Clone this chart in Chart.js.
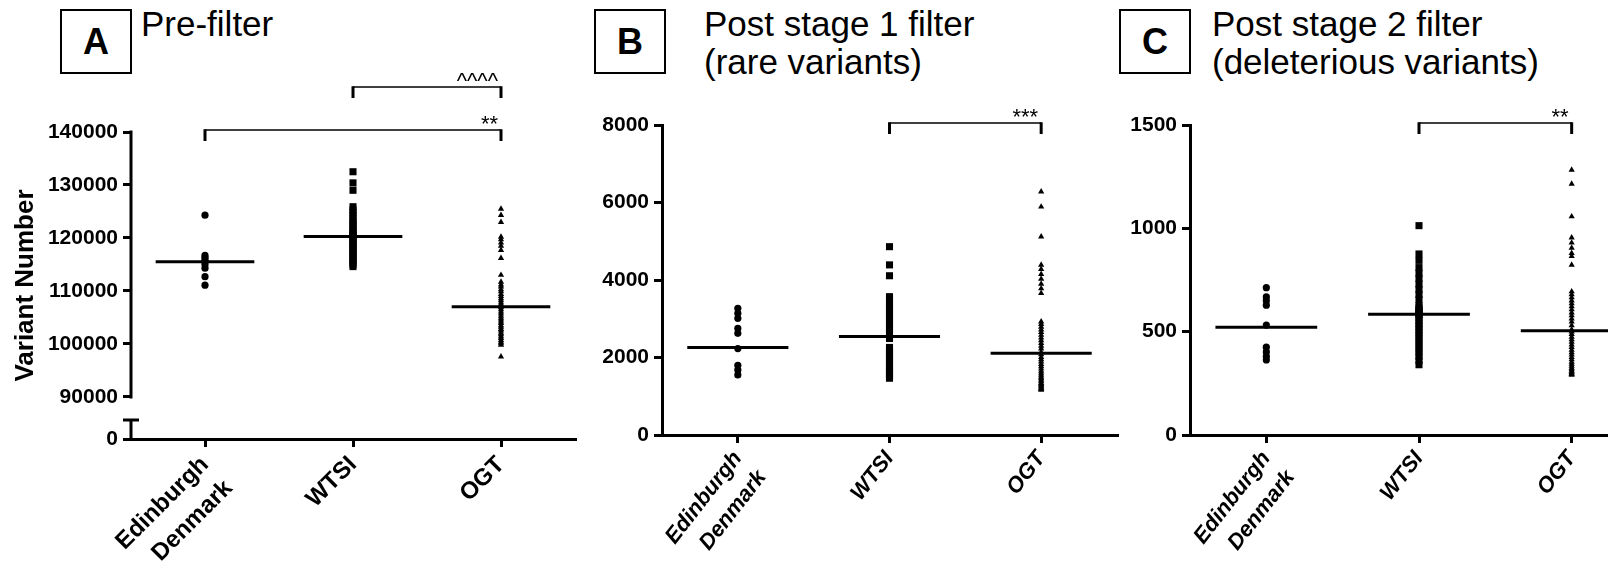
<!DOCTYPE html>
<html>
<head>
<meta charset="utf-8">
<script src="https://cdn.jsdelivr.net/npm/chart.js@4.4.1/dist/chart.umd.min.js"></script>
<style>
  html, body { margin: 0; padding: 0; background: #fff; width: 1608px; height: 564px; overflow: hidden; }
  body { position: relative; font-family: "Liberation Sans", Arial, sans-serif; color: #000; }
  .panel { position: absolute; top: 0; width: 600px; height: 564px; }
  .tag { position: absolute; top: 9px; width: 68px; height: 61px; border: 2px solid #000;
         font-weight: bold; font-size: 36px; line-height: 61px; text-align: center; }
  .title { position: absolute; top: 5px; font-size: 35px; line-height: 38px; white-space: nowrap; }
</style>
</head>
<body>
<div class="tag" style="left:60px">A</div>
<div class="title" style="left:141px">Pre-filter</div>
<div class="tag" style="left:594px">B</div>
<div class="title" style="left:704px">Post stage 1 filter<br>(rare variants)</div>
<div class="tag" style="left:1119px">C</div>
<div class="title" style="left:1212px">Post stage 2 filter<br>(deleterious variants)</div>

<div class="panel" style="left:0px"><canvas id="chartA"></canvas></div>
<div class="panel" style="left:560px"><canvas id="chartB"></canvas></div>
<div class="panel" style="left:1100px"><canvas id="chartC"></canvas></div>

<script>
// categories on the x axis (same for all three panels)
const categories = [['Edinburgh', 'Denmark'], 'WTSI', 'OGT'];

// A - pre-filter
const preEdinburgh = [124300, 116700, 116300, 115900, 115500, 115000, 114300, 112700, 111100];
const preWTSI = [132500, 130400, 129000, 125900, 125300, 124800, 124300, 123700, 123200, 122800,
  122400, 121900, 121500, 121100, 120800, 120500, 120100, 119800, 119400, 119000, 118700, 118300,
  118000, 117600, 117300, 116900, 116500, 116200, 115800, 115400, 115000, 114600];
const preOGT = [125500, 124300, 123000, 120200, 119700, 119100, 118500, 117700, 116200, 113000,
  111700, 111200, 110800, 110300, 109900, 109400, 109000, 108600, 108200, 107800, 107400, 107100,
  106900, 106500, 106100, 105700, 105300, 104900, 104600, 104200, 103900, 103500, 103200, 102800,
  102500, 102100, 101800, 101400, 101100, 100700, 100400, 100100, 99800, 97600];
const preMedians = [115500, 120300, 107000];
const preTicks = [0, 90000, 100000, 110000, 120000, 130000, 140000];
const preBrackets = [
  { from: 1, to: 2, label: '^^^^', level: 1 },
  { from: 0, to: 2, label: '**', level: 0 }
];

// B - post stage 1 filter (rare variants)
const rareEdinburgh = [3270, 3140, 3010, 2750, 2625, 2230, 1800, 1680, 1550];
const rareWTSI = [4860, 4390, 4110, 3570, 3480, 3400, 3320, 3240, 3160, 3080, 3000, 2920, 2840,
  2760, 2680, 2590, 2490, 2260, 2200, 2140, 2080, 2020, 1960, 1900, 1840, 1780, 1720, 1660, 1610,
  1560, 1510, 1465];
const rareOGT = [6280, 5890, 5120, 4390, 4280, 4150, 4030, 3900, 3780, 3660, 2925, 2860, 2790,
  2720, 2650, 2580, 2510, 2440, 2370, 2300, 2230, 2140, 2080, 2010, 1950, 1890, 1830, 1770, 1710,
  1650, 1600, 1550, 1500, 1460, 1420, 1380, 1340, 1310, 1280, 1250, 1220, 1200, 1180, 1160];
const rareMedians = [2260, 2540, 2110];
const rareTicks = [0, 2000, 4000, 6000, 8000];
const rareBrackets = [{ from: 1, to: 2, label: '***', level: 0 }];

// C - post stage 2 filter (deleterious variants)
const delEdinburgh = [713, 668, 650, 628, 532, 425, 402, 380, 363];
const delWTSI = [1013, 876, 845, 810, 783, 757, 730, 705, 680, 655, 626, 615, 606, 598, 591, 586,
  582, 570, 556, 541, 527, 512, 497, 481, 465, 449, 432, 415, 398, 380, 360, 340];
const delOGT = [1283, 1215, 1057, 955, 930, 905, 880, 865, 823, 694, 680, 665, 650, 636, 622, 607,
  592, 578, 563, 548, 530, 510, 500, 488, 475, 462, 450, 437, 425, 412, 400, 388, 376, 365, 354,
  344, 334, 325, 317, 310, 304, 298, 294, 290];
const delMedians = [521, 584, 505];
const delTicks = [0, 500, 1000, 1500];
const delBrackets = [{ from: 1, to: 2, label: '**', level: 0 }];

const FONT = '"Liberation Sans", Arial, sans-serif';
Chart.defaults.font.family = FONT;
Chart.defaults.color = '#000';

// panel A has a broken y axis: 0 at the bottom, then 90000..140000
const BREAK_FROM = 90000;
const BREAK_FRAC = 0.137;
class BrokenLinearScale extends Chart.LinearScale {
  getPixelForValue(value) {
    if (value === null || value === undefined || isNaN(value)) return NaN;
    let dec;
    if (value >= BREAK_FROM) {
      dec = BREAK_FRAC + (1 - BREAK_FRAC) * (value - BREAK_FROM) / (this.max - BREAK_FROM);
    } else {
      dec = BREAK_FRAC * (value - this.min) / (BREAK_FROM - this.min);
    }
    return this.getPixelForDecimal(dec);
  }
  drawBorder() {
    const ctx = this.ctx;
    const x = this.right;
    const yTop = this.getPixelForValue(this.max);
    const yBreak = this.getPixelForValue(BREAK_FROM);
    const y0 = this.getPixelForValue(this.min);
    ctx.save();
    ctx.strokeStyle = '#000';
    ctx.lineWidth = 3;
    ctx.beginPath();
    ctx.moveTo(x, yTop - 1.5);
    ctx.lineTo(x, yBreak + 1.5);
    ctx.moveTo(x, y0);
    ctx.lineTo(x, y0 - 19);
    ctx.moveTo(x - 8, y0 - 19);
    ctx.lineTo(x + 8, y0 - 19);
    ctx.stroke();
    ctx.restore();
  }
}
BrokenLinearScale.id = 'brokenLinear';
BrokenLinearScale.defaults = Chart.LinearScale.defaults;
Chart.register(BrokenLinearScale);

const bracketPlugin = {
  id: 'brackets',
  afterDraw(chart, args, opts) {
    const { ctx, chartArea } = chart;
    const x = chart.scales.x;
    (opts.items || []).forEach(b => {
      const x1 = x.getPixelForValue(b.from);
      const x2 = x.getPixelForValue(b.to);
      const y = chartArea.top - 2 - b.level * 43;
      ctx.save();
      ctx.strokeStyle = '#000';
      ctx.lineWidth = 1.5;
      ctx.beginPath();
      ctx.moveTo(x1, y);
      ctx.lineTo(x2, y);
      ctx.stroke();
      ctx.lineWidth = 3;
      ctx.beginPath();
      ctx.moveTo(x1, y - 0.75);
      ctx.lineTo(x1, y + 11);
      ctx.moveTo(x2, y - 0.75);
      ctx.lineTo(x2, y + 11);
      ctx.stroke();
      ctx.fillStyle = '#000';
      ctx.font = '22px ' + FONT;
      ctx.textAlign = 'right';
      ctx.textBaseline = 'alphabetic';
      ctx.fillText(b.label, x2 - 3, y + 1);
      ctx.restore();
    });
  }
};

const MEDIAN_HALF = 1 / 3;
const pointSizes = { circle: 3.6, rect: 5, triangle: 3.6 };

function dots(values, i, style) {
  return {
    data: values.map(v => ({ x: i, y: v })),
    pointStyle: style,
    pointRadius: pointSizes[style],
    pointHoverRadius: pointSizes[style],
    backgroundColor: '#000',
    borderColor: '#000',
    borderWidth: 0
  };
}

function medianLine(m, i) {
  return {
    data: [{ x: i - MEDIAN_HALF, y: m }, { x: i + MEDIAN_HALF, y: m }],
    showLine: true,
    borderColor: '#000',
    borderWidth: 3,
    pointRadius: 0,
    order: -1
  };
}

function makeChart(id, p) {
  const datasets = [
    dots(p.series[0], 0, 'circle'),
    dots(p.series[1], 1, 'rect'),
    dots(p.series[2], 2, 'triangle')
  ].concat(p.medians.map((m, i) => medianLine(m, i)));

  const gridOpts = {
    display: true, drawOnChartArea: false, drawTicks: true,
    tickLength: 8, tickWidth: 3, tickColor: '#000', color: '#000', lineWidth: 3
  };

  const yScale = {
    type: p.yType,
    min: p.yTicks[0],
    max: p.yTicks[p.yTicks.length - 1],
    afterBuildTicks: s => { s.ticks = p.yTicks.map(v => ({ value: v })); },
    afterFit: s => { s.width = p.yWidth; },
    ticks: {
      autoSkip: false,
      padding: 5,
      font: { size: 21, weight: 'bold' },
      callback: v => String(v)
    },
    grid: gridOpts,
    border: { display: true, width: 3, color: '#000' },
    title: p.yTitle ? {
      display: true, text: p.yTitle,
      font: { size: 26, weight: 'bold' },
      padding: { top: 10, bottom: 0 }
    } : { display: false }
  };

  return new Chart(document.getElementById(id), {
    type: 'scatter',
    data: { datasets },
    options: {
      responsive: true,
      maintainAspectRatio: false,
      animation: false,
      layout: { padding: { left: 0, top: p.top, right: p.right, bottom: 0 } },
      plugins: {
        legend: { display: false },
        tooltip: { enabled: false },
        brackets: { items: p.brackets }
      },
      scales: {
        x: {
          type: 'linear',
          min: -0.5,
          max: categories.length - 0.5,
          afterBuildTicks: s => { s.ticks = categories.map((c, i) => ({ value: i })); },
          afterFit: s => { s.height = p.xHeight; },
          ticks: {
            autoSkip: false,
            minRotation: p.rotation,
            maxRotation: p.rotation,
            padding: 2,
            font: p.xFont,
            callback: v => categories[v]
          },
          grid: gridOpts,
          border: { display: true, width: 3, color: '#000' }
        },
        y: yScale
      }
    },
    plugins: [bracketPlugin]
  });
}

makeChart('chartA', {
  series: [preEdinburgh, preWTSI, preOGT], medians: preMedians, yTicks: preTicks,
  brackets: preBrackets, yType: 'brokenLinear', yTitle: 'Variant Number',
  yWidth: 131, top: 132, right: 25, xHeight: 125, rotation: 45,
  xFont: { size: 24, weight: 'bold', lineHeight: 1.4 }
});

makeChart('chartB', {
  series: [rareEdinburgh, rareWTSI, rareOGT], medians: rareMedians, yTicks: rareTicks,
  brackets: rareBrackets, yType: 'linear', yTitle: null,
  yWidth: 102, top: 125, right: 43, xHeight: 129, rotation: 52,
  xFont: { size: 22, weight: 'bold', style: 'italic', lineHeight: 1.4 }
});

makeChart('chartC', {
  series: [delEdinburgh, delWTSI, delOGT], medians: delMedians, yTicks: delTicks,
  brackets: delBrackets, yType: 'linear', yTitle: null,
  yWidth: 90, top: 125, right: 52, xHeight: 129, rotation: 52,
  xFont: { size: 22, weight: 'bold', style: 'italic', lineHeight: 1.4 }
});
</script>
</body>
</html>
